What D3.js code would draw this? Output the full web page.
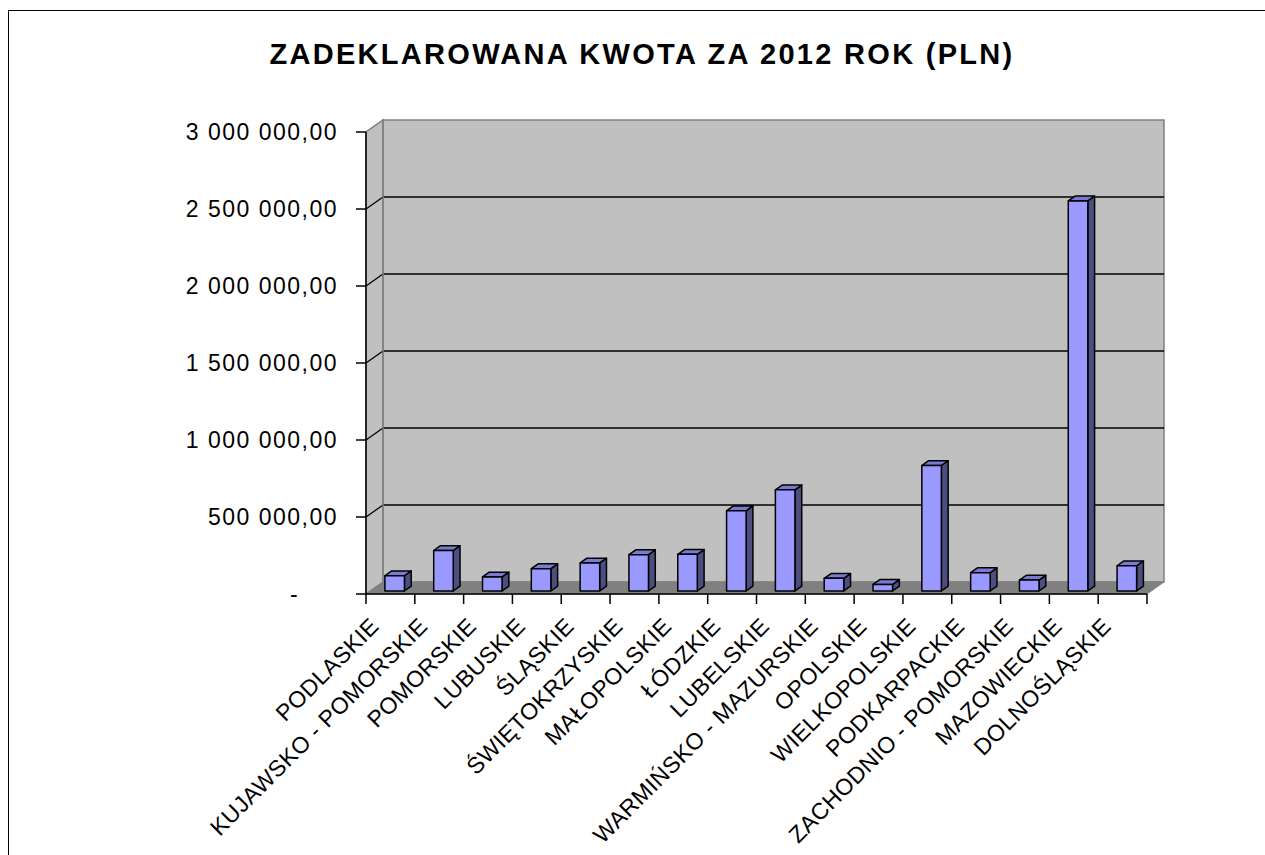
<!DOCTYPE html>
<html><head><meta charset="utf-8">
<script src="https://cdn.jsdelivr.net/npm/d3@7"></script>
<style>body{margin:0;background:#fff}svg{display:block}</style>
</head><body>
<script>
const title = "ZADEKLAROWANA KWOTA ZA 2012 ROK (PLN)";
const categories = ["PODLASKIE","KUJAWSKO - POMORSKIE","POMORSKIE","LUBUSKIE","ŚLĄSKIE","ŚWIĘTOKRZYSKIE","MAŁOPOLSKIE","ŁÓDZKIE","LUBELSKIE","WARMIŃSKO - MAZURSKIE","OPOLSKIE","WIELKOPOLSKIE","PODKARPACKIE","ZACHODNIO - POMORSKIE","MAZOWIECKIE","DOLNOŚLĄSKIE"];
const values = [99000,263000,91000,145000,182000,236000,238000,521000,657000,82000,43000,815000,119000,71000,2533000,164000];
const tickValues = [0,500000,1000000,1500000,2000000,2500000,3000000];
const tickLabels = ["-","500 000,00","1 000 000,00","1 500 000,00","2 000 000,00","2 500 000,00","3 000 000,00"];

const W=1265,H=855;
const svg=d3.select("body").append("svg").attr("width",W).attr("height",H);
const font="Liberation Sans, Arial, sans-serif";

// outer border
svg.append("rect").attr("x",8.5).attr("y",10.5).attr("width",1300).attr("height",900)
  .attr("fill","none").attr("stroke","#000").attr("stroke-width",1);

// title
svg.append("text").attr("x",642).attr("y",64).attr("text-anchor","middle")
  .attr("font-family",font).attr("font-weight","bold").attr("font-size",29)
  .attr("letter-spacing","2.3px").text(title);

const x0=366,x1=1147,yb=594,yt=132;
const DX=17,DY=-12;
const x=d3.scaleBand().domain(categories).range([x0,x1]).padding(0);
const y=d3.scaleLinear().domain([0,3000000]).range([yb,yt]);

// left side wall
svg.append("polygon").attr("points",[[x0,yb],[x0,y(3000000)],[x0+DX,y(3000000)+DY],[x0+DX,yb+DY]].map(p=>p.join(",")).join(" "))
  .attr("fill","#c0c0c0").attr("stroke","#808080").attr("stroke-width",1.5);
// back wall
svg.append("rect").attr("x",x0+DX).attr("y",y(3000000)+DY).attr("width",x1-x0).attr("height",yb-y(3000000))
  .attr("fill","#c0c0c0").attr("stroke","#808080").attr("stroke-width",1.5);
// floor
svg.append("polygon").attr("points",[[x0,yb],[x1,yb],[x1+DX,yb+DY],[x0+DX,yb+DY]].map(p=>p.join(",")).join(" "))
  .attr("fill","#808080").attr("stroke","#808080").attr("stroke-width",1);

// gridlines
const grid=svg.append("g").attr("stroke","#000").attr("stroke-width",1.3).attr("fill","none");
tickValues.filter(v=>v>0&&v<3000000).forEach(v=>{
  const yy=y(v);
  grid.append("line").attr("x1",x0).attr("y1",yy).attr("x2",x0+DX).attr("y2",yy+DY);
  grid.append("line").attr("x1",x0+DX).attr("y1",yy+DY).attr("x2",x1+DX).attr("y2",yy+DY);
});
svg.append("line").attr("x1",x0+DX).attr("y1",y(3000000)+DY).attr("x2",x0+DX).attr("y2",yb+DY).attr("stroke","#808080").attr("stroke-width",1.5);

// bars
const f0=0.25,f1=0.65;
const bw=x.bandwidth();
const bars=svg.append("g").attr("stroke","#000").attr("stroke-width",1.5).attr("stroke-linejoin","round");
categories.forEach((c,i)=>{
  const v=values[i];
  const bx=x(c)+bw*0.3+f0*DX;
  const w=bw*0.4;
  const by0=y(0)+f0*DY, by1=y(v)+f0*DY;
  const dx=(f1-f0)*DX, dy=(f1-f0)*DY;
  bars.append("polygon").attr("points",[[bx+w,by1],[bx+w+dx,by1+dy],[bx+w+dx,by0+dy],[bx+w,by0]].map(p=>p.join(",")).join(" ")).attr("fill","#4d4d80");
  bars.append("polygon").attr("points",[[bx,by1],[bx+w,by1],[bx+w+dx,by1+dy],[bx+dx,by1+dy]].map(p=>p.join(",")).join(" ")).attr("fill","#7a7ad0");
  bars.append("rect").attr("x",bx).attr("y",by1).attr("width",w).attr("height",by0-by1).attr("fill","#9999ff");
});

// axes
const ax=svg.append("g").attr("stroke","#000").attr("stroke-width",1.5);
ax.append("line").attr("x1",x0).attr("y1",yt).attr("x2",x0).attr("y2",yb);
ax.append("line").attr("x1",x0).attr("y1",yb).attr("x2",x1).attr("y2",yb);
tickValues.forEach(v=>{
  ax.append("line").attr("x1",x0-10).attr("y1",y(v)).attr("x2",x0).attr("y2",y(v));
});
categories.concat([null]).forEach((c,i)=>{
  const xx = c===null ? x1 : x(c);
  ax.append("line").attr("x1",xx).attr("y1",yb).attr("x2",xx).attr("y2",yb+10);
});
// y labels
tickValues.forEach((v,i)=>{
  const t=svg.append("text").attr("font-family",font).attr("font-size",23).attr("letter-spacing","1.5px")
    .attr("dy","0.35em").attr("y",y(v)).text(tickLabels[i]);
  if(v===0) t.attr("x",290); else t.attr("x",338).attr("text-anchor","end");
});
// x labels
categories.forEach(c=>{
  const cx=x(c)+bw/2;
  svg.append("text").attr("font-family",font).attr("font-size",23).attr("letter-spacing","0.4px")
    .attr("text-anchor","end").attr("dy","0.35em")
    .attr("transform",`translate(${cx-16},622) rotate(-45)`).text(c);
});
</script>
</body></html>
